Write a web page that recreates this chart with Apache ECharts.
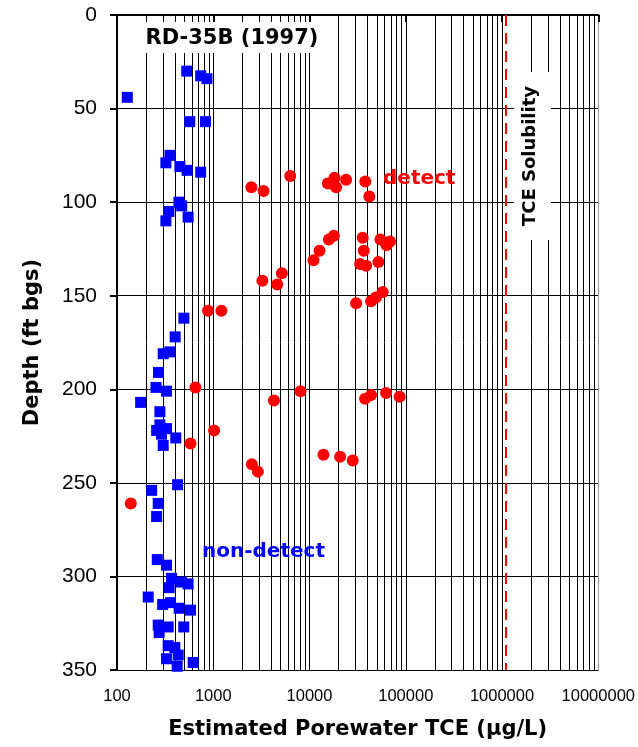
<!DOCTYPE html>
<html>
<head>
<meta charset="utf-8">
<script src="https://cdn.jsdelivr.net/npm/echarts@6/dist/echarts.min.js"></script>
<style>
  html, body { margin: 0; padding: 0; background: #fff; }
  #chart { width: 638px; height: 747px; }
</style>
</head>
<body>
<div id="chart"></div>
<script>
// non-detect samples: [TCE ug/L, depth ft]
var nonDetect = [
  [530, 30], [740, 32.5], [860, 34], [128, 44], [570, 57], [830, 57],
  [355, 75], [322, 79], [450, 81], [535, 83], [740, 84],
  [440, 100], [470, 102], [346, 105], [322, 110], [548, 108],
  [495, 162], [402, 172], [355, 180], [302, 181], [270, 191], [254, 199],
  [327, 201], [176, 207], [279, 212], [279, 219], [258, 222], [327, 221],
  [290, 224], [408, 226], [302, 230],
  [229, 254], [426, 251], [268, 261], [258, 268],
  [262, 291], [327, 294], [369, 301], [468, 303], [548, 304], [348, 306],
  [211, 311], [298, 315], [360, 314], [442, 317], [580, 318],
  [268, 326], [340, 327], [494, 327], [274, 330], [340, 337], [399, 338],
  [327, 344], [432, 342], [422, 348], [618, 346]
];
// detect samples: [TCE ug/L, depth ft]
var detect = [
  [2490, 92], [3330, 94], [6310, 86], [15500, 90], [18200, 87], [18900, 92],
  [24000, 88], [38000, 89], [41800, 97],
  [17900, 118], [15900, 120], [12700, 126], [11000, 131], [35700, 119],
  [54500, 120], [68600, 121], [63200, 123], [36600, 126], [33500, 133],
  [38700, 134], [51900, 132], [5160, 138], [4620, 144], [3240, 142],
  [30500, 154], [43600, 153], [49000, 151], [57500, 148], [1216, 158], [883, 158],
  [653, 199], [4270, 206], [8070, 201], [1020, 222], [580, 229],
  [37800, 205], [43600, 203], [62400, 202], [86300, 204],
  [2520, 240], [2910, 244], [13960, 235], [20800, 236], [28100, 238], [139, 261]
];
var tceSolubility = 1100000;
var depthTicks = [0, 50, 100, 150, 200, 250, 300, 350];

// minor log gridlines at 2..9 x 10^k
var minorLines = [];
for (var k = 2; k < 7; k++) {
  for (var m = 2; m <= 9; m++) {
    minorLines.push({ xAxis: m * Math.pow(10, k) });
  }
}

var boldFont = '"DejaVu Sans", sans-serif';
var tickFont = '"Liberation Sans", Arial, sans-serif';

var chart = echarts.init(document.getElementById('chart'));
chart.setOption({
  backgroundColor: '#fff',
  animation: false,
  grid: { left: 117, right: 37, top: 15, bottom: 77, containLabel: false },
  xAxis: {
    type: 'log',
    logBase: 10,
    min: 100,
    max: 10000000,
    name: 'Estimated Porewater TCE (\u00b5g/L)',
    nameLocation: 'middle',
    nameGap: 49,
    nameTextStyle: { fontFamily: boldFont, fontWeight: 'bold', fontSize: 21, color: '#000' },
    axisLine: { lineStyle: { color: '#000', width: 2 } },
    axisTick: { length: 7, lineStyle: { color: '#000', width: 2 } },
    axisLabel: {
      fontFamily: tickFont, fontSize: 16.5, color: '#000', margin: 18,
      formatter: function (v) { return String(Math.round(v)); }
    },
    splitLine: { show: true, lineStyle: { color: ['#000', '#000', '#000', '#000', '#000', '#999'], width: 1 } }
  },
  yAxis: {
    type: 'value',
    inverse: true,
    min: depthTicks[0],
    max: depthTicks[depthTicks.length - 1],
    interval: 50,
    name: 'Depth (ft bgs)',
    nameLocation: 'middle',
    nameGap: 74,
    nameTextStyle: { fontFamily: boldFont, fontWeight: 'bold', fontSize: 21, color: '#000' },
    axisLine: { lineStyle: { color: '#000', width: 2 } },
    axisTick: { length: 7, lineStyle: { color: '#000', width: 2 } },
    axisLabel: { fontFamily: tickFont, fontSize: 21, color: '#000', margin: 20 },
    splitLine: { show: true, lineStyle: { color: ['#999', '#000', '#000', '#000', '#000', '#000', '#000', '#000'], width: 1 } }
  },
  series: [
    {
      name: 'grid',
      type: 'scatter',
      data: [],
      z: 1,
      silent: true,
      markLine: {
        silent: true,
        symbol: 'none',
        label: { show: false },
        lineStyle: { color: '#000', width: 1, type: 'solid', opacity: 1 },
        data: minorLines
      }
    },
    {
      name: 'solubility',
      type: 'scatter',
      data: [],
      z: 3,
      silent: true,
      markLine: {
        silent: true,
        symbol: 'none',
        label: { show: false },
        lineStyle: { color: '#ff0000', width: 2, type: [11, 7], opacity: 1 },
        data: [{ xAxis: tceSolubility }]
      }
    },
    {
      name: 'non-detect',
      type: 'scatter',
      symbol: 'rect',
      symbolSize: 11,
      itemStyle: { color: '#0000ff', opacity: 1 },
      z: 5,
      data: nonDetect
    },
    {
      name: 'detect',
      type: 'scatter',
      symbol: 'circle',
      symbolSize: 12,
      itemStyle: { color: '#ff0000', opacity: 1 },
      z: 6,
      data: detect
    }
  ],
  graphic: [
    { type: 'rect', z: 50, shape: { x: 136, y: 22, width: 196, height: 31 }, style: { fill: '#fff' } },
    {
      type: 'text', z: 51, x: 232, y: 39,
      style: { text: 'RD-35B (1997)', fill: '#000', font: 'bold 21px "DejaVu Sans", sans-serif', textAlign: 'center', textVerticalAlign: 'middle' }
    },
    { type: 'rect', z: 50, shape: { x: 514, y: 72, width: 37, height: 168 }, style: { fill: '#fff' } },
    {
      type: 'text', z: 51, x: 530, y: 156, rotation: Math.PI / 2,
      style: { text: 'TCE Solubility', fill: '#000', font: 'bold 18px "DejaVu Sans", sans-serif', textAlign: 'center', textVerticalAlign: 'middle' }
    },
    {
      type: 'text', z: 51, x: 383, y: 179,
      style: { text: 'detect', fill: '#ff0000', font: 'bold 20px "DejaVu Sans", sans-serif', textAlign: 'left', textVerticalAlign: 'middle' }
    },
    {
      type: 'text', z: 51, x: 202, y: 552,
      style: { text: 'non-detect', fill: '#0000ff', font: 'bold 20px "DejaVu Sans", sans-serif', textAlign: 'left', textVerticalAlign: 'middle' }
    }
  ]
});
</script>
</body>
</html>
